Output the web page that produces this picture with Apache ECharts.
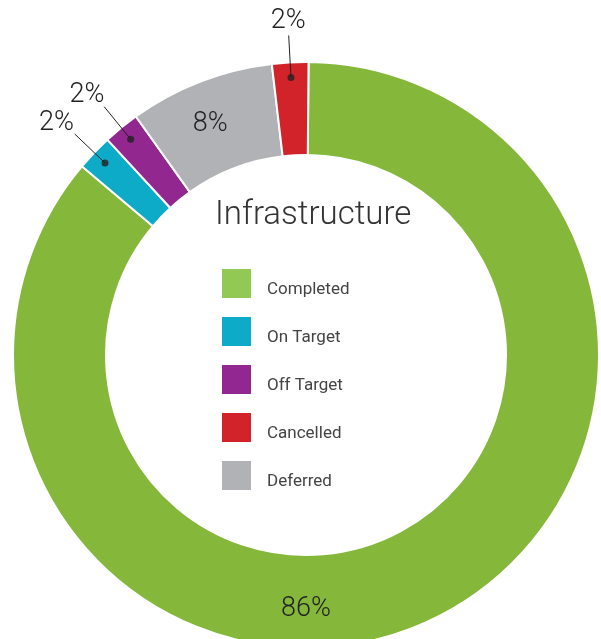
<!DOCTYPE html>
<html>
<head>
<meta charset="utf-8">
<script src="https://cdn.jsdelivr.net/npm/echarts@6/dist/echarts.min.js"></script>
<style>
  html, body { margin: 0; padding: 0; background: #fff; }
  #chart { width: 601px; height: 639px; }
</style>
</head>
<body>
<div id="chart"></div>
<script>
// slices, in drawing order (clockwise from 12 o'clock)
var sliceNames = ['Completed', 'On Target', 'Off Target', 'Deferred', 'Cancelled'];
var sliceValues = [86, 2, 2, 8, 2];
var sliceColors = ['#84b73a', '#0eabc8', '#92278f', '#b1b2b5', '#d2232a'];
// small slices get their label outside, with a leader line
var outsideLabel = [false, true, true, false, true];

// legend order and swatch colours
var legendNames = ['Completed', 'On Target', 'Off Target', 'Cancelled', 'Deferred'];
var legendColors = ['#92c955', '#0eabc8', '#92278f', '#d2232a', '#b1b2b5'];

var chartTitle = 'Infrastructure';

var CX = 306, CY = 355, R_IN = 200, R_OUT = 293, R_DOT = 278;
var START = 89.5;
var FONT = 'Roboto';

var myChart = echarts.init(document.getElementById('chart'));

var pieData = sliceNames.map(function (name, i) {
    return {name: name, value: sliceValues[i], itemStyle: {color: sliceColors[i]}};
});

var total = sliceValues.reduce(function (a, b) { return a + b; }, 0);

// dots sit at the middle angle of each small slice
var dotData = [];
var acc = 0;
for (var i = 0; i < sliceValues.length; i++) {
    var mid = (acc + sliceValues[i] / 2) / total * 100;
    if (outsideLabel[i]) dotData.push([R_DOT, mid]);
    acc += sliceValues[i];
}

var option = {
    animation: false,
    title: {
        text: chartTitle,
        left: 210,
        top: 194,
        textStyle: {
            fontFamily: FONT,
            fontWeight: 300,
            fontSize: 33,
            color: '#333'
        }
    },
    legend: {
        orient: 'vertical',
        left: 215,
        top: 262,
        icon: 'rect',
        itemWidth: 31,
        itemHeight: 31,
        itemGap: 15,
        selectedMode: false,
        data: legendNames.map(function (n, i) {
            return {name: n, itemStyle: {color: legendColors[i]}};
        }),
        // empty first line pushes the name a little below the swatch centre
        formatter: function (name) {
            return '\n' + name;
        },
        textStyle: {
            fontFamily: FONT,
            fontWeight: 400,
            fontSize: 17,
            lineHeight: 13,
            color: '#444',
            padding: [0, 0, 0, 10]
        }
    },
    polar: {
        center: [CX, CY],
        radius: R_OUT
    },
    angleAxis: {
        type: 'value',
        min: 0,
        max: 100,
        startAngle: START,
        clockwise: true,
        show: false
    },
    radiusAxis: {
        type: 'value',
        min: 0,
        max: R_OUT,
        show: false
    },
    series: [
        {
            name: 'Infrastructure',
            type: 'pie',
            center: [CX, CY],
            radius: [R_IN, R_OUT],
            startAngle: START,
            clockwise: true,
            silent: true,
            avoidLabelOverlap: false,
            data: pieData,
            itemStyle: {
                borderColor: '#fff',
                borderWidth: 2
            },
            label: {
                show: true,
                position: 'inside',
                fontFamily: FONT,
                fontWeight: 300,
                fontSize: 27,
                color: '#222',
                formatter: function (p) {
                    return outsideLabel[p.dataIndex] ? '' : Math.round(p.percent) + '%';
                }
            },
            labelLine: {show: false},
            labelLayout: function (p) {
                // the big slice's label sits at the bottom of the ring
                if (p.dataIndex === 0) {
                    return {x: CX, y: CY + (R_IN + R_OUT) / 2 + 8, align: 'center', verticalAlign: 'middle'};
                }
                if (p.dataIndex === 3) {
                    return {dx: -6, dy: 2};
                }
                return {};
            }
        },
        {
            name: 'outside labels',
            type: 'pie',
            z: 4,
            center: [CX, CY],
            radius: [0, R_DOT],
            startAngle: START,
            clockwise: true,
            silent: true,
            avoidLabelOverlap: false,
            data: sliceNames.map(function (name, i) {
                return {
                    name: name,
                    value: sliceValues[i],
                    label: {show: outsideLabel[i]},
                    labelLine: {show: outsideLabel[i]}
                };
            }),
            itemStyle: {color: 'rgba(0,0,0,0)'},
            label: {
                position: 'outside',
                fontFamily: FONT,
                fontWeight: 300,
                fontSize: 27,
                color: '#222',
                formatter: function (p) {
                    return Math.round(p.percent) + '%';
                }
            },
            labelLine: {
                length: 42,
                length2: 0,
                lineStyle: {color: '#222', width: 1}
            },
            labelLayout: function (p) {
                var pts = p.labelLinePoints;
                if (!pts) return {};
                var s = pts[0], e = pts[pts.length - 1];
                var dx = e[0] - s[0], dy = e[1] - s[1];
                var len = Math.sqrt(dx * dx + dy * dy) || 1;
                // labels left of the top sit up and to the left of the line end
                var side = dx / len < -0.3 ? -11 : 0;
                return {
                    x: e[0] + dx / len * 10 + side,
                    y: e[1] + dy / len * 10 - 4,
                    align: 'center',
                    verticalAlign: 'middle',
                    labelLinePoints: pts
                };
            }
        },
        {
            name: 'dots',
            type: 'scatter',
            coordinateSystem: 'polar',
            symbol: 'circle',
            symbolSize: 7,
            silent: true,
            itemStyle: {color: '#222'},
            data: dotData,
            z: 5
        }
    ]
};

myChart.setOption(option);
</script>
</body>
</html>
